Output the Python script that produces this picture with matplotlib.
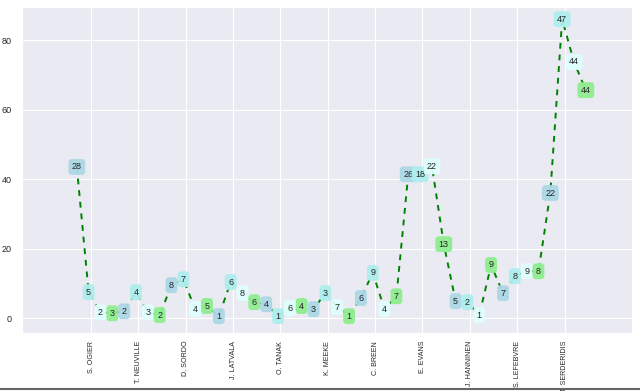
import numpy as np
import matplotlib
matplotlib.use('Agg')
import matplotlib.pyplot as plt
import seaborn as sns
from matplotlib.lines import Line2D

drivers = ['S. OGIER', 'T. NEUVILLE', 'D. SORDO', 'J. LATVALA', 'O. TANAK', 'K. MEEKE',
           'C. BREEN', 'E. EVANS', 'J. HANNINEN', 'S. LEFEBVRE', 'J. SERDERIDIS']

# 4 points per driver
values = [43.5, 7.5, 1.7, 1.4,
          2.0, 7.5, 1.7, 0.9,
          9.5, 11.2, 2.6, 3.5,
          0.6, 10.4, 7.2, 4.6,
          4.0, 0.6, 2.9, 3.5,
          2.6, 7.2, 3.2, 0.6,
          5.8, 13.0, 2.6, 6.3,
          41.4, 41.4, 43.7, 21.3,
          4.9, 4.6, 0.9, 15.3,
          7.2, 12.1, 13.5, 13.5,
          36.0, 86.0, 73.7, 65.6]

labels = [28, 5, 2, 3,
          2, 4, 3, 2,
          8, 7, 4, 5,
          1, 6, 8, 6,
          4, 1, 6, 4,
          3, 3, 7, 1,
          6, 9, 4, 7,
          26, 18, 22, 13,
          5, 2, 1, 9,
          7, 8, 9, 8,
          22, 47, 44, 44]

box_colors = ['lightblue', 'paleturquoise', 'lightcyan', 'lightgreen']

sns.set_style('darkgrid')
plt.rcParams['font.family'] = ['Liberation Sans', 'DejaVu Sans']

fig = plt.figure(figsize=(6.4, 3.91), dpi=100)
ax = fig.add_axes([0.034, 0.148, 0.9535, 0.834])

x = np.arange(len(values))
ax.plot(x, values, 'g--', linewidth=1.4, dashes=(3, 3))

for i in range(len(values)):
    ax.text(x[i], values[i], str(labels[i]), ha='center', va='center', fontsize=6.5,
            color='#262626', zorder=5,
            bbox=dict(boxstyle='round,pad=0.3', facecolor=box_colors[i % 4],
                      edgecolor=box_colors[i % 4], alpha=0.95))

ax.set_xticks(np.arange(len(drivers)) * 4 + 1.2)
ax.set_xticklabels(drivers, rotation=90)
ax.tick_params(axis='x', labelsize=5.1, pad=2)
ax.tick_params(axis='y', labelsize=6.5)
ax.set_yticks([0, 20, 40, 60, 80])
ax.set_xlim(-4.65, 46.9)
ax.set_ylim(-4.3, 89.5)

# grey strip at the bottom of the screenshot
fig.add_artist(Line2D([0, 1], [0.004, 0.004], transform=fig.transFigure, color='#666666', linewidth=1.5))

fig.savefig('out.png', dpi=100)
